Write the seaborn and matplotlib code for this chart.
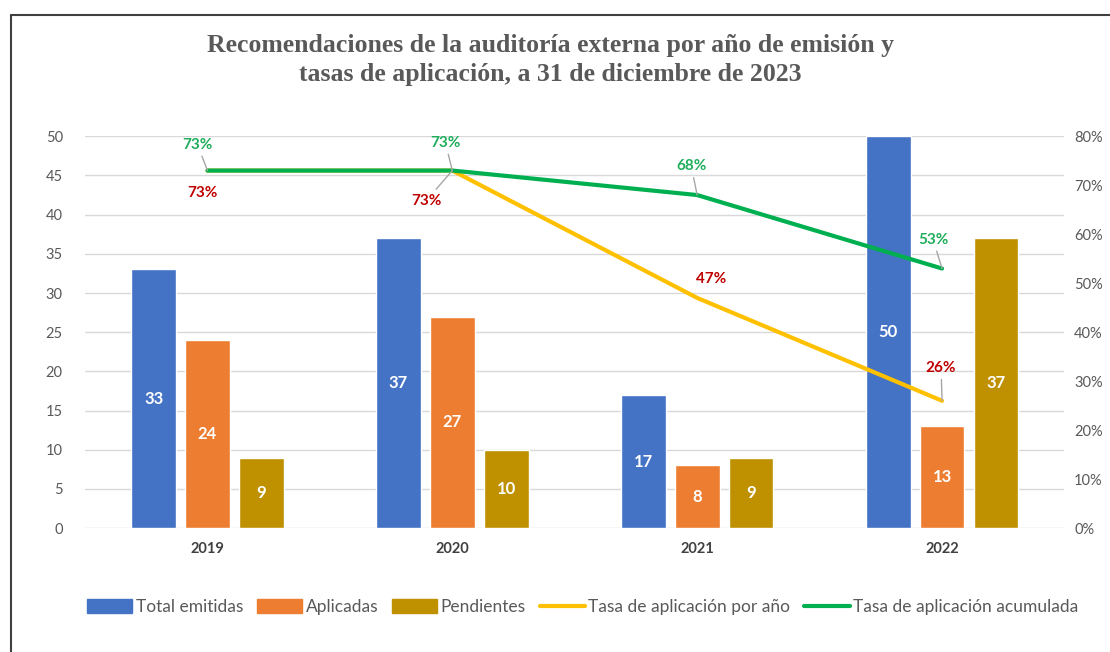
import pandas as pd
import numpy as np
import matplotlib.pyplot as plt
import seaborn as sns
from matplotlib.patches import Patch
from matplotlib.lines import Line2D
from matplotlib.ticker import PercentFormatter

# data
anios = ['2019', '2020', '2021', '2022']
total_emitidas = [33, 37, 17, 50]
aplicadas = [24, 27, 8, 13]
pendientes = [9, 10, 9, 37]
tasa_anual = [0.73, 0.73, 0.47, 0.26]
tasa_acumulada = [0.73, 0.73, 0.68, 0.53]
series = ['Total emitidas', 'Aplicadas', 'Pendientes']

df = pd.DataFrame({
	'anio': anios * 3,
	'valor': total_emitidas + aplicadas + pendientes,
	'serie': np.repeat(series, len(anios)),
})

colores = ['#4472C4', '#ED7D31', '#BF9000']
amarillo = '#FFC000'
verde = '#00B050'
gris = '#595959'

sns.set_theme(style='white')
plt.rcParams['font.family'] = ['Lato', 'DejaVu Sans']

fig = plt.figure(figsize=(11.1, 6.52), dpi=100)
ax = fig.add_axes([0.0766, 0.190, 0.8824, 0.601])

sns.barplot(data=df, x='anio', y='valor', hue='serie', palette=colores,
			width=0.66, gap=0.17, ax=ax, legend=False, saturation=1)
for cont in ax.containers:
	ax.bar_label(cont, label_type='center', color='white', fontweight='bold', fontsize=12)

ax.set_xlim(-0.5, 3.5)
ax.set_ylim(0, 50)
ax.set_yticks(range(0, 51, 5))
ax.grid(axis='y', color='#D9D9D9', linewidth=1)
ax.set_axisbelow(True)
ax.set_xlabel('')
ax.set_ylabel('')
ax.tick_params(axis='y', colors=gris, labelsize=10.5, length=0, pad=16)
ax.tick_params(axis='x', length=0, pad=10)
for lab in ax.get_xticklabels():
	lab.set_fontweight('bold')
	lab.set_color('#404040')
	lab.set_fontsize(10.5)
sns.despine(ax=ax, left=True, bottom=True)

ax2 = ax.twinx()
x_pos = np.arange(len(anios))
sns.lineplot(x=x_pos, y=tasa_anual, ax=ax2, color=amarillo, linewidth=3)
sns.lineplot(x=x_pos, y=tasa_acumulada, ax=ax2, color=verde, linewidth=3)
ax2.set_ylim(0, 0.8)
ax2.set_yticks(np.arange(0, 0.81, 0.1))
ax2.yaxis.set_major_formatter(PercentFormatter(1, decimals=0))
ax2.tick_params(axis='y', colors=gris, labelsize=10.5, length=0, pad=7)
ax2.grid(False)
ax2.set_xlim(-0.5, 3.5)
for s in ax2.spines.values():
	s.set_visible(False)

# label offsets in pixels and whether a leader line is drawn
off_verde = [(-10, 26), (-7, 28), (-6, 29), (-9, 29)]
linea_verde = [True, True, True, True]
off_rojo = [(-5, -22), (-26, -30), (14, 19), (-1, 33)]
linea_rojo = [False, True, False, True]

def etiqueta(xv, yv, off, linea, color):
	props = dict(arrowstyle='-', color='#A6A6A6', lw=1, shrinkA=1, shrinkB=0) if linea else None
	ax2.annotate(f'{yv:.0%}', xy=(xv, yv), xytext=off, textcoords='offset pixels',
				 ha='center', va='center', color=color, fontweight='bold', fontsize=11,
				 arrowprops=props)

for i in range(len(anios)):
	etiqueta(x_pos[i], tasa_acumulada[i], off_verde[i], linea_verde[i], '#1FAE5B')
	etiqueta(x_pos[i], tasa_anual[i], off_rojo[i], linea_rojo[i], '#C00000')

fig.text(0.496, 0.908, 'Recomendaciones de la auditoría externa por año de emisión y\n'
		 'tasas de aplicación, a 31 de diciembre de 2023', ha='center', va='center',
		 family='Liberation Serif', fontweight='bold', fontsize=18.5, color=gris,
		 linespacing=1.3)

handles = [Patch(color=c) for c in colores] + [
	Line2D([], [], color=amarillo, lw=3), Line2D([], [], color=verde, lw=3)]
nombres = series + ['Tasa de aplicación por año', 'Tasa de aplicación acumulada']
fig.legend(handles, nombres, loc='center', bbox_to_anchor=(0.525, 0.069), ncol=5,
		   frameon=False, fontsize=12.5, handlelength=2.6, handleheight=0.8,
		   handletextpad=0.2, columnspacing=0.8, labelcolor=gris)

# frame of the original picture (left and top edges)
fig.add_artist(Line2D([0.0095, 0.0095], [0, 0.977], color='#404040', lw=1.5))
fig.add_artist(Line2D([0.0095, 1], [0.977, 0.977], color='#404040', lw=1.5))

fig.savefig('out.png', dpi=100)
